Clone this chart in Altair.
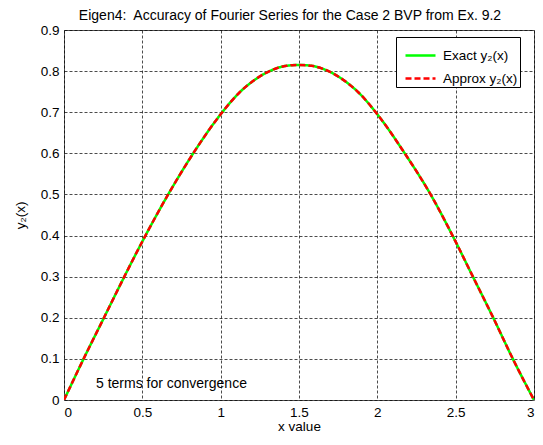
import altair as alt
import pandas as pd

x_vals = [0.0, 0.125, 0.255, 0.385, 0.52, 0.665, 0.825, 1.0, 1.12, 1.23, 1.33, 1.42, 1.5,
          1.58, 1.67, 1.77, 1.88, 2.0, 2.175, 2.34, 2.48, 2.61, 2.74, 2.865, 3.0]
y_exact = [0.0, 0.10, 0.20, 0.30, 0.40, 0.50, 0.60, 0.695, 0.748, 0.782, 0.803, 0.813, 0.815,
           0.813, 0.803, 0.782, 0.748, 0.695, 0.60, 0.50, 0.40, 0.30, 0.20, 0.10, 0.0]
y_approx = [0.0, 0.10, 0.20, 0.30, 0.40, 0.50, 0.60, 0.695, 0.748, 0.782, 0.803, 0.813, 0.815,
            0.813, 0.803, 0.782, 0.748, 0.695, 0.60, 0.50, 0.40, 0.30, 0.20, 0.10, 0.0]
series_names = ["Exact y\u2082(x)", "Approx y\u2082(x)"]
x_ticks = [0, 0.5, 1, 1.5, 2, 2.5, 3]
y_ticks = [0, 0.1, 0.2, 0.3, 0.4, 0.5, 0.6, 0.7, 0.8, 0.9]
note_text = ["5 terms for convergence"]
note_x = [0.204]
note_y = [0.04]

rows = []
for i, xv in enumerate(x_vals):
    rows.append({"x": xv, "y": y_exact[i], "series": series_names[0], "order": 0})
for i, xv in enumerate(x_vals):
    rows.append({"x": xv, "y": y_approx[i], "series": series_names[1], "order": 1})
df = pd.DataFrame(rows)
note_df = pd.DataFrame({"x": note_x, "y": note_y, "t": note_text})

FONT = "Liberation Sans"

xscale = alt.Scale(domain=[0, 3], nice=False, zero=False)
yscale = alt.Scale(domain=[0, 0.9], nice=False, zero=False)

lines = alt.Chart(df).mark_line(strokeWidth=2.5, clip=True, interpolate="monotone").encode(
    x=alt.X("x:Q", scale=xscale,
            axis=alt.Axis(title="x value", values=x_ticks, format="~g")),
    y=alt.Y("y:Q", scale=yscale,
            axis=alt.Axis(title="y\u2082(x)", values=y_ticks, format="~g")),
    color=alt.Color("series:N", sort=series_names,
                    scale=alt.Scale(domain=series_names, range=["#00ff00", "#ff0000"]),
                    legend=alt.Legend(title=None, orient="none", legendX=332, legendY=7,
                                      symbolType="stroke", symbolStrokeWidth=2.5,
                                      symbolSize=900, symbolOffset=6,
                                      labelFontSize=13.5, labelFont=FONT,
                                      labelColor="#000000",
                                      strokeColor="#000000", fillColor="#ffffff",
                                      padding=2, rowPadding=-8, labelOffset=6,
                                      labelExpr="datum.label + '\u00a0\u00a0\u00a0\u00a0'")),
    strokeDash=alt.StrokeDash("series:N", sort=series_names,
                              scale=alt.Scale(domain=series_names, range=[[1, 0], [6, 3]]),
                              legend=None),
    order=alt.Order("order:Q"),
)

note = alt.Chart(note_df).mark_text(align="left", baseline="middle", fontSize=14,
                                    font=FONT, color="#000000").encode(
    x=alt.X("x:Q", scale=xscale), y=alt.Y("y:Q", scale=yscale), text="t:N")

chart = alt.layer(lines, note).properties(
    width=470, height=370,
    title=alt.TitleParams("Eigen4:\u00a0 Accuracy of Fourier Series for the Case 2 BVP from Ex. 9.2",
                          font=FONT, fontSize=14, fontWeight="normal", color="#000000",
                          offset=0, dx=-9),
    autosize=alt.AutoSizeParams(type="none"),
    padding={"left": 56, "top": 22, "right": 1, "bottom": 37},
).configure_view(stroke="#555555", strokeWidth=1).configure_axis(
    grid=True, gridColor="#000000", gridDash=[3, 2], gridOpacity=0.7, gridWidth=1,
    ticks=False, domain=False,
    labelFont=FONT, labelFontSize=13.5, labelColor="#000000",
    titleFont=FONT, titleFontSize=13.5, titleFontWeight="normal", titleColor="#000000",
    labelPadding=5,
).configure_axisX(titlePadding=1).configure_axisY(titlePadding=13)

chart.save("out.html", embed_options={"renderer": "svg", "actions": False})
